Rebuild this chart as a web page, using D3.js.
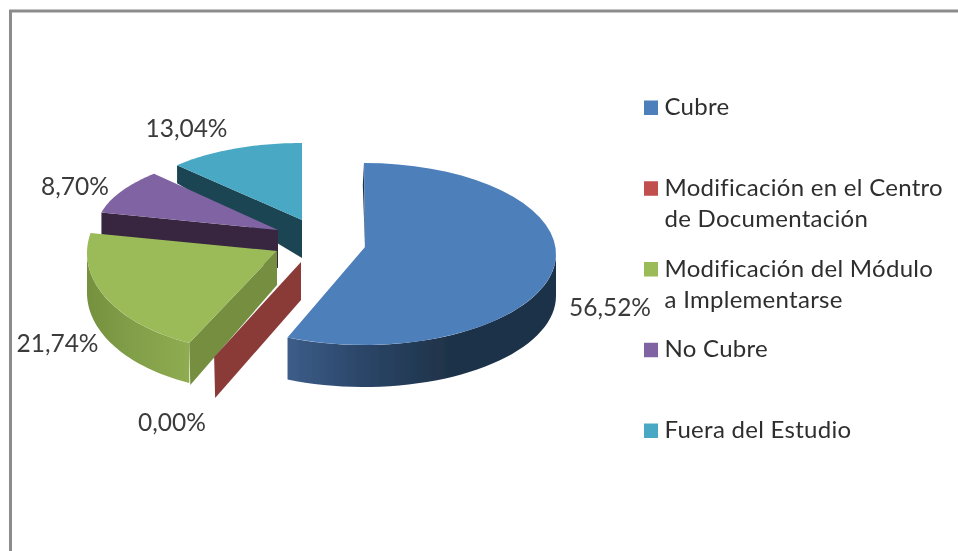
<!DOCTYPE html>
<html><head><meta charset="utf-8">
<script src="https://cdn.jsdelivr.net/npm/d3@7"></script>
<style>html,body{margin:0;padding:0;background:#fff}svg{display:block}text{font-family:Lato,"Open Sans",sans-serif}</style>
</head><body><div id="c"></div>
<script>
// data
const categories = ["Cubre","Modificación en el Centro de Documentación","Modificación del Módulo a Implementarse","No Cubre","Fuera del Estudio"];
const values = [56.52,0,21.74,8.70,13.04];
const legendLines = [["Cubre"],["Modificación en el Centro","de Documentación"],["Modificación del Módulo","a Implementarse"],["No Cubre"],["Fuera del Estudio"]];
// style
const topColors = ["#4d7fbb","#c0504d","#9bbb59","#8064a2","#4aa9c4"];
const cutColors = ["#1f3349","#8a3a38","#748e3f","#37263f","#1d4552"];
const outerStops = [["#3c5d89","#2a4466","#1f3349"],null,["#8fac51","#83a04a","#75913e"],null,null];
// projected frame of each exploded slice (ellipse, apex, wall depths)
const frames = [
 {cx:364,cy:254,rx:192,ry:91,ax:365,ay:247,apexD:1,rimD:22,rimDX:-1.2,outerD:42},
 {cx:290.6,cy:273.5,rx:192,ry:91,ax:301,ay:262,apexD:38,rimD:41,rimDX:1,outerD:41},
 {cx:257,cy:253,rx:170,ry:98,ax:277,ay:251,apexD:34,rimD:42,rimDX:1,outerD:40},
 {cx:309,cy:229,rx:212,ry:81,ax:278,ay:230,apexD:38,rimD:22,rimDX:0,outerD:38},
 {cx:302,cy:213,rx:171,ry:70,ax:302,ay:220,apexD:38,rimD:18,rimDX:0,outerD:38}
];
const labelPos = [[610,316],[172,431],[57.5,352],[75,195],[186.5,137]];
const drawOrder = [4,3,2,1,0];

const W=958,H=551;
const svg=d3.select("#c").append("svg").attr("width",W).attr("height",H);
const defs=svg.append("defs");
defs.append("filter").attr("id","soft").attr("x","-5%").attr("y","-5%").attr("width","110%").attr("height","110%")
  .append("feGaussianBlur").attr("stdDeviation",0.45);
const root=svg.append("g").attr("filter","url(#soft)");
root.append("path").attr("d",d3.line()([[10.5,H+5],[10.5,11],[W+5,11]]))
  .attr("fill","none").attr("stroke","#8c8c8c").attr("stroke-width",3);

const arcs=d3.pie().sort(null).value(d=>d).startAngle(0).endAngle(2*Math.PI)(values);
const line=d3.line();
const pt=(f,t,d=0)=>[f.cx+f.rx*Math.sin(t),f.cy-f.ry*Math.cos(t)+d];
const samples=(a,b)=>d3.range(0,41).map(i=>a+(b-a)*i/40);
const fmt=d3.formatLocale({decimal:",",thousands:".",grouping:[3],currency:["",""]}).format(".2f");

const chart=root.append("g");
drawOrder.forEach(i=>{
  const f=frames[i],s=arcs[i],a=s.startAngle,b=s.endAngle;
  const g=chart.append("g");
  // outer wall (front half of the rim)
  const oa=Math.max(a,Math.PI/2),ob=Math.min(b,3*Math.PI/2);
  if(ob>oa && outerStops[i]){
    const id="w"+i,gr=defs.append("linearGradient").attr("id",id).attr("gradientUnits","userSpaceOnUse");
    const xs=samples(oa,ob).map(t=>pt(f,t)[0]);
    const x0=d3.min(xs),x1=d3.max(xs);
    gr.attr("x1",x0).attr("x2",x1).attr("y1",0).attr("y2",0);
    const st=i===0?outerStops[i]:outerStops[i].slice().reverse();
    gr.selectAll("stop").data(st).join("stop").attr("offset",(d,k)=>i===0?[0,.3,.6][k]:k/2).attr("stop-color",d=>d);
    const up=samples(oa,ob).map(t=>pt(f,t));
    const dn=samples(ob,oa).map(t=>pt(f,t,f.outerD));
    g.append("path").attr("d",line(up.concat(dn))+"Z").attr("fill",`url(#${id})`);
  }
  // cut wall at the start angle
  const rim=pt(f,a);
  g.append("path").attr("d",line([rim,[f.ax,f.ay],[f.ax,f.ay+f.apexD],[rim[0]+f.rimDX,rim[1]+f.rimD]])+"Z").attr("fill",cutColors[i]);
  // top face
  if(b>a){
    const top=[[f.ax,f.ay]].concat(samples(a,b).map(t=>pt(f,t)));
    g.append("path").attr("d",line(top)+"Z").attr("fill",topColors[i]);
  }
});

// data labels
root.selectAll("text.v").data(values).join("text").attr("class","v")
  .attr("x",(d,i)=>labelPos[i][0]).attr("y",(d,i)=>labelPos[i][1])
  .attr("text-anchor","middle").attr("font-size",24.5).attr("fill","#3a3a3a")
  .text(d=>fmt(d)+"%");

// legend
const legY=d3.scaleLinear().domain([0,4]).range([115,438]);
const leg=root.selectAll("g.l").data(categories).join("g").attr("class","l")
  .attr("transform",(d,i)=>`translate(644,${legY(i)})`);
leg.append("rect").attr("x",0).attr("y",-14.5).attr("width",14).attr("height",14.5).attr("fill",(d,i)=>topColors[i]);
leg.each(function(d,i){
  d3.select(this).selectAll("text").data(legendLines[i]).join("text")
   .attr("x",20.5).attr("y",(t,k)=>k*31.5).attr("font-size",24).attr("letter-spacing",0.28).attr("fill","#2f2f2f").text(t=>t);
});
</script></body></html>
